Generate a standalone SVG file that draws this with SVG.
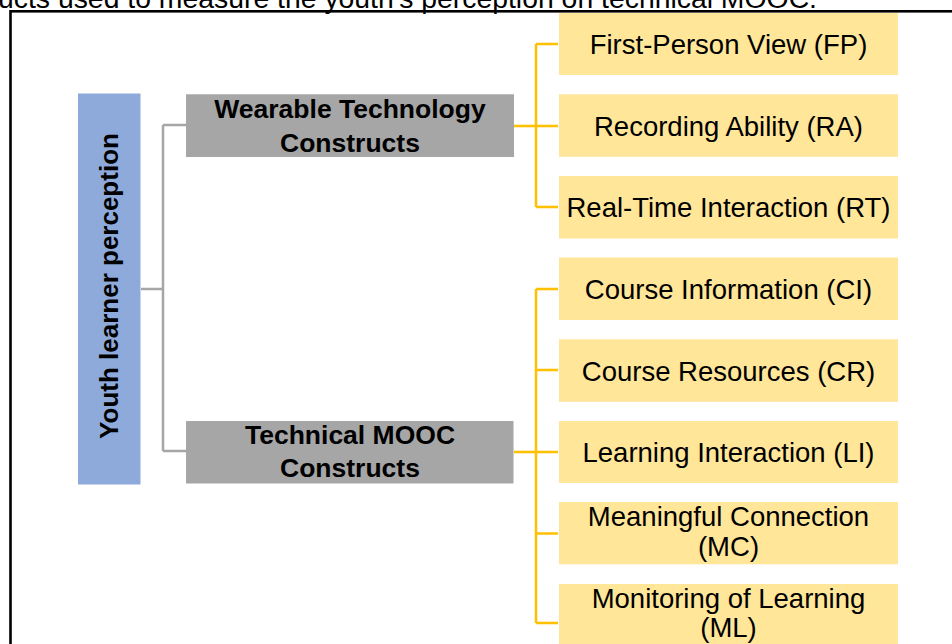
<svg xmlns="http://www.w3.org/2000/svg" width="952" height="644" viewBox="0 0 952 644">
<defs>
<style>
.txt{font-family:"Liberation Sans",Arial,sans-serif;fill:#000;}
.leaf rect{fill:#ffe699;}
.leaf text{font-size:27.5px;text-anchor:middle;}
.mid rect{fill:#a6a6a6;}
.mid text{font-size:26.5px;font-weight:bold;text-anchor:middle;}
.gray{stroke:#a6a6a6;stroke-width:2.5;fill:none;}
.yel{stroke:#ffc000;stroke-width:2.5;fill:none;}
</style>
</defs>
<rect width="952" height="644" fill="#fff"/>
<text class="txt" x="-2" y="8" font-size="28" textLength="819" lengthAdjust="spacingAndGlyphs">ucts used to measure the youth's perception on technical MOOC.</text>
<rect x="10.5" y="11.3" width="1000" height="700" fill="none" stroke="#000" stroke-width="2.6"/>

<g id="connectors">
<path class="gray" d="M141,289 H163 M163,125 V451 M163,125 H186 M163,451 H186"/>
<path class="yel" d="M514,126 H558 M536,44 V207 M536,44 H558 M536,207 H558"/>
<path class="yel" d="M514,452 H558 M536,289 V623 M536,289 H558 M536,370 H558 M536,533.5 H558 M536,623 H558"/>
</g>

<g id="root">
<rect x="78" y="93.5" width="62.5" height="391" fill="#8eaadb"/>
<text class="txt" transform="translate(118,286) rotate(-90)" font-size="26" font-weight="bold" text-anchor="middle">Youth learner perception</text>
</g>

<g id="wearable" class="mid">
<rect x="186" y="94.3" width="328" height="62.7"/>
<text class="txt" x="350" y="117.5">Wearable Technology</text>
<text class="txt" x="350" y="151.5">Constructs</text>
</g>
<g id="mooc" class="mid">
<rect x="186" y="421" width="327.5" height="62.5"/>
<text class="txt" x="350" y="443.5">Technical MOOC</text>
<text class="txt" x="350" y="477">Constructs</text>
</g>

<g id="fp" class="leaf"><rect x="559" y="13" width="339" height="62"/><text class="txt" x="728.5" y="54">First-Person View (FP)</text></g>
<g id="ra" class="leaf"><rect x="559" y="94.3" width="339" height="62.5"/><text class="txt" x="728.5" y="135.5">Recording Ability (RA)</text></g>
<g id="rt" class="leaf"><rect x="559" y="176" width="339" height="62.5"/><text class="txt" x="728.5" y="217">Real-Time Interaction (RT)</text></g>
<g id="ci" class="leaf"><rect x="559" y="257.5" width="339" height="62.5"/><text class="txt" x="728.5" y="298.5">Course Information (CI)</text></g>
<g id="cr" class="leaf"><rect x="559" y="339.3" width="339" height="62.5"/><text class="txt" x="728.5" y="380.5">Course Resources (CR)</text></g>
<g id="li" class="leaf"><rect x="559" y="421" width="339" height="62"/><text class="txt" x="728.5" y="462">Learning Interaction (LI)</text></g>
<g id="mc" class="leaf"><rect x="559" y="502" width="339" height="62.3"/><text class="txt" x="728.5" y="526">Meaningful Connection</text><text class="txt" x="728.5" y="555.5">(MC)</text></g>
<g id="ml" class="leaf"><rect x="559" y="584" width="339" height="62.5"/><text class="txt" x="728.5" y="607.5">Monitoring of Learning</text><text class="txt" x="728.5" y="637">(ML)</text></g>
</svg>
